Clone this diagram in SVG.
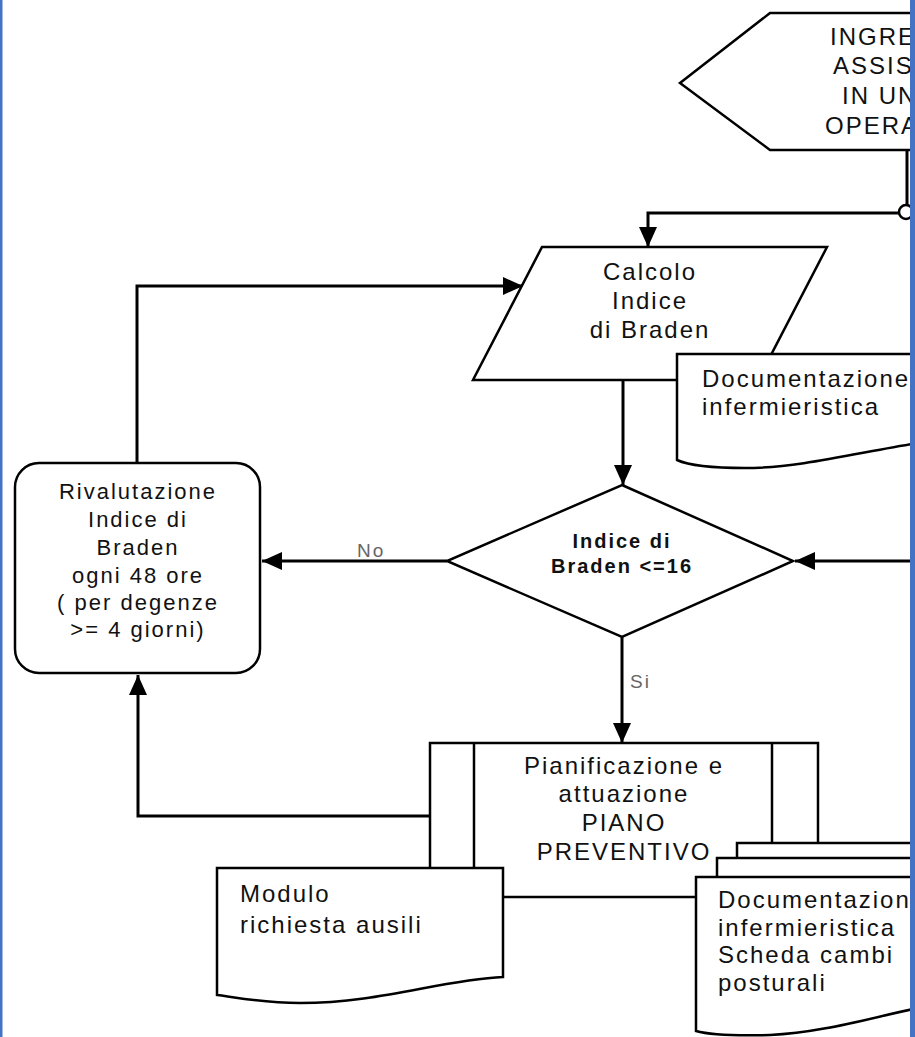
<svg xmlns="http://www.w3.org/2000/svg" width="915" height="1037" viewBox="0 0 915 1037">
<style>
.s{fill:#fff;stroke:#000;stroke-width:2.5;stroke-linejoin:miter}
.c{fill:none;stroke:#000;stroke-width:3}
.t{font-family:"Liberation Sans",Arial,sans-serif;font-size:24px;letter-spacing:2px;fill:#111}
.m{text-anchor:middle}
.r{font-size:22px}
.b{font-weight:bold;font-size:20px}
.l{font-size:19px;fill:#666}
</style>
<defs>
<marker id="ah" markerUnits="userSpaceOnUse" markerWidth="22" markerHeight="22" refX="20" refY="10" orient="auto" overflow="visible">
<path d="M0,1 L20,10 L0,19 z" fill="#000"/>
</marker>
</defs>
<rect x="0" y="0" width="915" height="1037" fill="#fff"/>

<g id="connectors">
<path class="c" d="M907,150 V205"/>
<path class="c" d="M899,213 H648 V247" marker-end="url(#ah)"/>
<path class="c" d="M623,380 V485" marker-end="url(#ah)"/>
<path class="c" d="M447,561 H262" marker-end="url(#ah)"/>
<path class="c" d="M137,463 V286 H523" marker-end="url(#ah)"/>
<path class="c" d="M622,637 V743" marker-end="url(#ah)"/>
<path class="c" d="M430,816 H138 V675" marker-end="url(#ah)"/>
<path class="c" d="M915,561 H795" marker-end="url(#ah)"/>
<text class="t l" x="357" y="557">No</text>
<text class="t l" x="630" y="688">Si</text>
</g>

<g id="start">
<path class="s" d="M918,13 H770 L680,83 L770,150 H918"/>
<text class="t" x="830" y="45">INGRE</text>
<text class="t" x="833" y="74">ASSIS</text>
<text class="t" x="842" y="104">IN UN</text>
<text class="t" x="825" y="134">OPERA</text>
</g>

<g id="junction">
<circle class="s" cx="906" cy="212" r="7"/>
</g>

<g id="calcolo">
<path class="s" d="M542,247 H827 L758,380 H473 Z"/>
<text class="t m" x="650" y="280">Calcolo</text>
<text class="t m" x="650" y="309">Indice</text>
<text class="t m" x="650" y="338">di Braden</text>
</g>

<g id="doc1">
<path class="s" d="M677,460 V354 H918 V443 C860,452 800,468 745,468 C715,468 690,466 677,460 Z"/>
<text class="t" x="702" y="387">Documentazione</text>
<text class="t" x="702" y="415">infermieristica</text>
</g>

<g id="decision">
<path class="s" d="M622,485 L793,561 L622,637 L447,561 Z"/>
<text class="t b m" x="622" y="548">Indice di</text>
<text class="t b m" x="622" y="573">Braden &lt;=16</text>
</g>

<g id="rivalutazione">
<rect class="s" x="15" y="463" width="245" height="210" rx="24" ry="24"/>
<text class="t r m" x="138" y="499">Rivalutazione</text>
<text class="t r m" x="138" y="527">Indice di</text>
<text class="t r m" x="138" y="555">Braden</text>
<text class="t r m" x="138" y="583">ogni 48 ore</text>
<text class="t r m" x="138" y="610">( per degenze</text>
<text class="t r m" x="138" y="637">&gt;= 4 giorni)</text>
</g>

<g id="piano">
<rect class="s" x="430" y="743" width="388" height="154"/>
<path class="c" style="stroke-width:2.5" d="M474,743 V897 M772,743 V897"/>
<text class="t m" x="624" y="774">Pianificazione e</text>
<text class="t m" x="624" y="802">attuazione</text>
<text class="t m" x="624" y="831">PIANO</text>
<text class="t m" x="624" y="860">PREVENTIVO</text>
</g>

<g id="modulo">
<path class="s" d="M217,995 V868 H503 V977 C440,980 380,1003 300,1003 C260,1003 235,997 217,995 Z"/>
<text class="t" x="240" y="902">Modulo</text>
<text class="t" x="240" y="933">richiesta ausili</text>
</g>

<g id="multidoc">
<rect class="s" x="737" y="843" width="190" height="60"/>
<rect class="s" x="717" y="858" width="210" height="60"/>
<path class="s" d="M696,1031 V877 H918 V1008 C870,1018 820,1033 770,1035 C730,1036 710,1035 696,1031 Z"/>
<text class="t" x="718" y="908">Documentazion</text>
<text class="t" x="718" y="936">infermieristica</text>
<text class="t" x="718" y="963">Scheda cambi</text>
<text class="t" x="718" y="991">posturali</text>
</g>

<g id="frame">
<rect x="0" y="0" width="2.5" height="1037" fill="#4472c4"/>
<rect x="910" y="0" width="5" height="1037" fill="#4472c4"/>
</g>
</svg>
